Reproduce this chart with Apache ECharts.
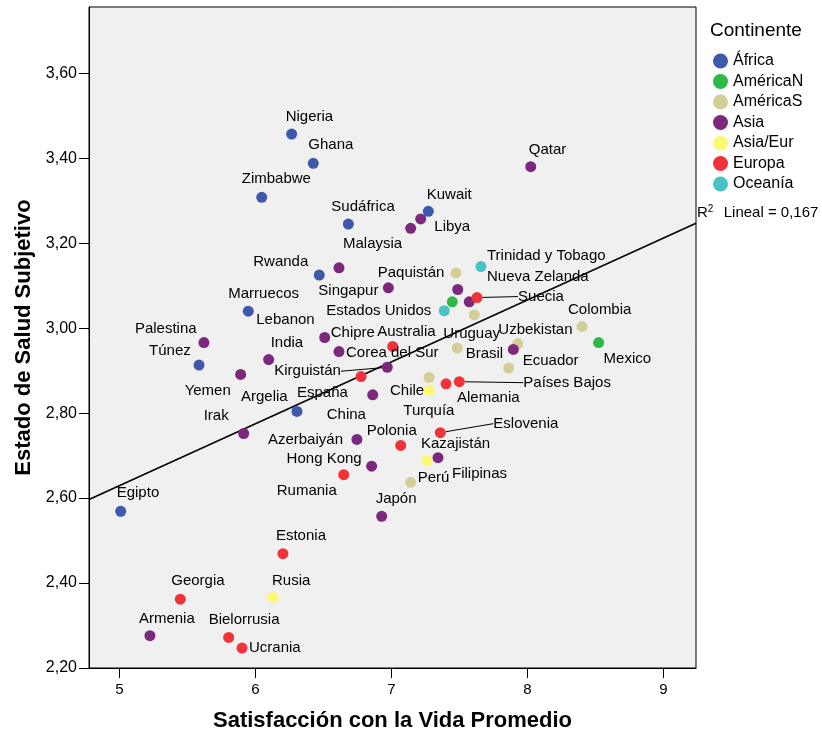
<!DOCTYPE html>
<html>
<head>
<meta charset="utf-8">
<script src="https://cdn.jsdelivr.net/npm/echarts@6/dist/echarts.min.js"></script>
<style>
  html, body { margin: 0; padding: 0; background: #fff; }
  #chart { width: 822px; height: 740px; }
</style>
</head>
<body>
<div id="chart"></div>
<script>
// datos
const continents = ["África", "AméricaN", "AméricaS", "Asia", "Asia/Eur", "Europa", "Oceanía"];
const countries = [
  "Nigeria", "Ghana", "Zimbabwe", "Sudáfrica", "Libya", "Rwanda", "Marruecos", "Túnez", "Argelia", "Egipto",
  "Qatar", "Kuwait", "", "Malaysia", "Singapur", "Paquistán", "Lebanon", "Palestina", "Chipre", "Corea del Sur",
  "India", "Yemen", "Kirguistán", "China", "Irak", "Azerbaiyán", "Hong Kong", "Filipinas", "Japón", "Armenia", "Uzbekistan",
  "Estados Unidos", "Mexico",
  "Trinidad y Tobago", "Uruguay", "Brasil", "Ecuador", "Colombia", "Perú", "Chile", "",
  "Turquía", "Kazajistán", "Rusia",
  "Suecia", "", "España", "Alemania", "Países Bajos", "Eslovenia", "Polonia", "Rumania", "Estonia", "Georgia", "Bielorrusia", "Ucrania",
  "Nueva Zelanda", "Australia"
];
const satisfaction = [
  6.266, 6.425, 6.046, 6.683, 7.271, 6.469, 5.947, 5.585, 6.305, 5.009,
  8.024, 7.215, 7.141, 6.614, 6.977, 7.487, 7.572, 5.621, 6.509, 6.614,
  6.097, 5.891, 6.969, 6.862, 5.913, 6.746, 6.854, 7.342, 6.928, 5.224, 7.896,
  7.447, 8.523,
  7.474, 7.484, 7.928, 7.862, 8.401, 7.141, 7.276, 7.609,
  7.278, 7.261, 6.129,
  7.629, 7.009, 6.776, 7.401, 7.499, 7.359, 7.068, 6.649, 6.202, 5.447, 5.803, 5.901,
  7.658, 7.388
];
const health = [
  3.457, 3.388, 3.308, 3.245, 3.275, 3.125, 3.040, 2.913, 2.804, 2.569,
  3.380, 3.257, 3.235, 3.142, 3.095, 3.091, 3.062, 2.966, 2.978, 2.945,
  2.926, 2.891, 2.908, 2.843, 2.752, 2.738, 2.675, 2.695, 2.557, 2.276, 2.950,
  3.062, 2.966,
  3.130, 2.953, 2.963, 2.906, 3.004, 2.637, 2.884, 3.031,
  2.853, 2.688, 2.366,
  3.072, 2.957, 2.886, 2.869, 2.874, 2.754, 2.724, 2.655, 2.469, 2.362, 2.272, 2.247,
  3.145, 3.041
];
const continentOf = [
  0, 0, 0, 0, 0, 0, 0, 0, 0, 0,
  3, 3, 3, 3, 3, 3, 3, 3, 3, 3,
  3, 3, 3, 3, 3, 3, 3, 3, 3, 3, 3,
  1, 1,
  2, 2, 2, 2, 2, 2, 2, 2,
  4, 4, 4,
  5, 5, 5, 5, 5, 5, 5, 5, 5, 5, 5, 5,
  6, 6
];
const xTicks = [5, 6, 7, 8, 9];
const yTicks = [2.2, 2.4, 2.6, 2.8, 3.0, 3.2, 3.4, 3.6];
const r2Text = "0,167";

// estilo
const colors = ["#3E58AC", "#2EB848", "#D3CE97", "#7C287D", "#FBF873", "#EF3338", "#48C2C5"];
const font = "Liberation Sans, Arial, sans-serif";
const xMin = 4.776, xMax = 9.239, yMin = 2.2, yMax = 3.756;

// posicion de etiquetas: [dx borde izq, dy centro] en px respecto al punto
const labelPos = {
  "Nigeria": [-6, -17], "Ghana": [-5, -18], "Zimbabwe": [-20, -18], "Sudáfrica": [-17, -17],
  "Libya": [6, 16], "Rwanda": [-66, -13], "Marruecos": [-20, -17], "Túnez": [-50, -14],
  "Argelia": [-56, -15], "Egipto": [-4, -18], "Qatar": [-2, -17], "Kuwait": [6, -24],
  "Malaysia": [4, -24], "Singapur": [-70, 3], "Paquistán": [-80, -17], "Lebanon": [-213, 18],
  "Palestina": [-69, -14], "Chipre": [6, -5], "Corea del Sur": [7, 1], "India": [2, -17],
  "Yemen": [-56, 16], "Kirguistán": [-113, 4], "China": [-46, 20], "Irak": [-40, -18],
  "Azerbaiyán": [-89, 0], "Hong Kong": [-85, -7], "Filipinas": [14, 16], "Japón": [-6, -17],
  "Armenia": [-11, -17], "Uzbekistan": [-15, -20], "Estados Unidos": [-126, 9], "Mexico": [5, 16],
  "Trinidad y Tobago": [31, -17], "Uruguay": [-14, -14], "Brasil": [-52, 10], "Ecuador": [14, -7],
  "Colombia": [-14, -17], "Perú": [7, -4], "Chile": [-39, 13], "Turquía": [-26, 20],
  "Kazajistán": [-6, -17], "Rusia": [-1, -17], "Suecia": [41, -1], "España": [-64, 16],
  "Alemania": [11, 14], "Países Bajos": [64, 1], "Eslovenia": [53, -9], "Polonia": [-34, -15],
  "Rumania": [-67, 16], "Estonia": [-7, -18], "Georgia": [-9, -18], "Bielorrusia": [-20, -18],
  "Ucrania": [7, 0], "Nueva Zelanda": [6, 10], "Australia": [-67, 21]
};
const leaders = ["Suecia", "Países Bajos", "Eslovenia", "Kirguistán"];

// recta de regresion (minimos cuadrados)
const n = satisfaction.length;
const mx = satisfaction.reduce((a, b) => a + b, 0) / n;
const my = health.reduce((a, b) => a + b, 0) / n;
let sxy = 0, sxx = 0;
for (let i = 0; i < n; i++) {
  sxy += (satisfaction[i] - mx) * (health[i] - my);
  sxx += (satisfaction[i] - mx) * (satisfaction[i] - mx);
}
const slope = sxy / sxx;
const intercept = my - slope * mx;
const fitLine = [[xMin, intercept + slope * xMin], [xMax, intercept + slope * xMax]];

const series = continents.map(function (c, ci) {
  const data = [];
  for (let i = 0; i < n; i++) {
    if (continentOf[i] !== ci) continue;
    const item = { name: countries[i], value: [satisfaction[i], health[i]] };
    if (leaders.indexOf(countries[i]) >= 0) {
      item.labelLine = { show: true, lineStyle: { color: "#000", width: 1 } };
    }
    data.push(item);
  }
  return {
    name: c,
    type: "scatter",
    symbolSize: 11,
    itemStyle: { color: colors[ci], opacity: 1 },
    label: {
      show: true,
      formatter: "{b}",
      position: "inside",
      color: "#000",
      fontSize: 15,
      fontFamily: font
    },
    labelLine: { show: false },
    labelLayout: function (p) {
      const off = labelPos[p.text];
      if (!off) return {};
      return {
        x: p.rect.x + p.rect.width / 2 + off[0],
        y: p.rect.y + p.rect.height / 2 + off[1],
        align: "left",
        verticalAlign: "middle"
      };
    },
    emphasis: { disabled: true },
    data: data,
    z: 3
  };
});

series.push({
  name: "fit",
  type: "line",
  data: fitLine,
  symbol: "none",
  silent: true,
  clip: true,
  lineStyle: { color: "#000", width: 1.5 },
  z: 2
});

let chart = echarts.init(document.getElementById("chart"));
let option = {
  animation: false,
  backgroundColor: "#fff",
  textStyle: { fontFamily: font },
  title: {
    text: "Continente",
    left: 705,
    top: 16,
    textStyle: { fontSize: 19, fontWeight: "normal", color: "#000", fontFamily: font }
  },
  legend: {
    data: continents,
    orient: "vertical",
    left: 708,
    top: 48,
    icon: "circle",
    itemWidth: 15,
    itemHeight: 15,
    itemGap: 4.5,
    textStyle: { fontSize: 16, color: "#000", fontFamily: font }
  },
  grid: {
    left: 89,
    right: 126,
    top: 7,
    bottom: 72,
    show: true,
    backgroundColor: "#f0f0f0",
    borderColor: "#000",
    borderWidth: 1
  },
  xAxis: {
    type: "value",
    min: xMin,
    max: xMax,
    name: "Satisfacción con la Vida Promedio",
    nameLocation: "middle",
    nameGap: 42,
    nameTextStyle: { fontSize: 22, fontWeight: "bold", color: "#000", fontFamily: font },
    axisLine: { show: true, onZero: false, lineStyle: { color: "#000", width: 1 } },
    axisTick: { show: true, length: 10, customValues: xTicks, lineStyle: { color: "#000" } },
    axisLabel: { customValues: xTicks, margin: 14, fontSize: 15, color: "#000", formatter: function (v) { return String(v); } },
    splitLine: { show: false }
  },
  yAxis: {
    type: "value",
    min: yMin,
    max: yMax,
    name: "Estado de Salud Subjetivo",
    nameLocation: "middle",
    nameGap: 54,
    nameTextStyle: { fontSize: 22, fontWeight: "bold", color: "#000", fontFamily: font },
    axisLine: { show: true, onZero: false, lineStyle: { color: "#000", width: 1 } },
    axisTick: { show: true, length: 10, customValues: yTicks, lineStyle: { color: "#000" } },
    axisLabel: {
      customValues: yTicks, margin: 12, fontSize: 16, color: "#000",
      formatter: function (v) { return v.toFixed(2).replace(".", ","); }
    },
    splitLine: { show: false }
  },
  graphic: [{
    type: "text",
    left: 697,
    top: 204,
    style: {
      text: "R{sup|2}  Lineal = " + r2Text,
      fontSize: 15,
      fontFamily: font,
      fill: "#000",
      rich: { sup: { fontSize: 10, verticalAlign: "top", padding: [0, 2, 8, 0] } }
    }
  }],
  series: series
};
chart.setOption(option);
</script>
</body>
</html>
